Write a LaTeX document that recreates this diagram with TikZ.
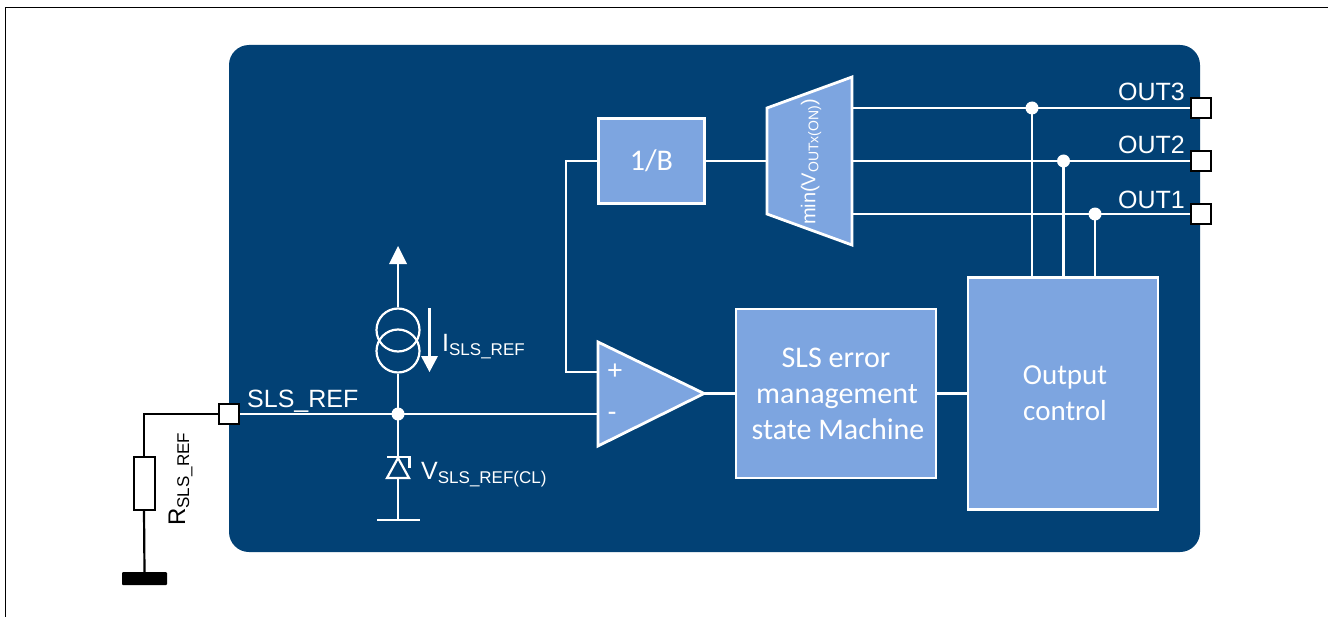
\documentclass[tikz,border=0pt]{standalone}
\usepackage{fontspec}
\setmainfont{Liberation Sans}
\newfontfamily\boxfont{Carlito}
\usetikzlibrary{arrows.meta}
\definecolor{navy}{HTML}{024175}
\definecolor{lightblock}{HTML}{7DA5E0}
\tikzset{
  wire/.style={draw=white,line width=2.2bp},
  blackwire/.style={draw=black,line width=2.2bp},
  block/.style={draw=white,line width=2.8bp,fill=lightblock,text=white,inner sep=0pt,align=center},
  pin/.style={draw=black,line width=2.4bp,fill=white,minimum size=20bp,inner sep=0pt},
  dot/.style={circle,fill=white,minimum size=13bp,inner sep=0pt},
  lbl/.style={text=white,inner sep=0pt,font=\fontsize{25bp}{28bp}\selectfont}
}
\newcommand{\subt}[1]{\raisebox{-4bp}{\fontsize{17bp}{20bp}\selectfont #1}}
\begin{document}
\begin{tikzpicture}[x=1bp,y=-1bp]
\useasboundingbox (0,0) rectangle (1328,617);
\fill[white] (0,0) rectangle (1328,617);
\draw[black,line width=1bp] (5.5,617) -- (5.5,7.5) -- (1328,7.5);
\fill[navy,rounded corners=20bp] (229,45) rectangle (1200,552);

% blocks
\node[block,minimum width=106bp,minimum height=85bp,font=\boxfont\fontsize{30bp}{36bp}\selectfont] (inv) at (651.5,161) {1/B};
\node[block,minimum width=200bp,minimum height=169bp,font=\boxfont\fontsize{30bp}{36bp}\selectfont] (sm) at (836,393.5) {\raisebox{-1bp}{SLS error}\\\raisebox{-1bp}{\hspace{2bp}management}\\\raisebox{-1bp}{\hspace{4bp}state Machine}};
\node[block,minimum width=190bp,minimum height=232bp,font=\boxfont\fontsize{29bp}{36bp}\selectfont] (oc) at (1063,393.5) {\raisebox{-1.5bp}{\hspace{4bp}Output}\\\raisebox{-1.5bp}{\hspace{4bp}control}};
\path[block,line join=miter,miter limit=2] (767,108) -- (852,77) -- (852,245) -- (767,214) -- cycle;
\coordinate (muxL) at (767,161);
\coordinate (muxR3) at (852,108);
\coordinate (muxR2) at (852,161);
\coordinate (muxR1) at (852,214);
\node[text=white,inner sep=0pt,rotate=90,font=\fontsize{20bp}{22bp}\selectfont] at (811,162) {min(V\raisebox{-3bp}{\fontsize{14bp}{16bp}\selectfont OUTx(ON)})};
\path[block,line join=miter] (598,342) -- (704,393.5) -- (598,446) -- cycle;
\coordinate (opP) at (598,372);
\coordinate (opM) at (598,414);
\coordinate (opO) at (704,393.5);
\node[text=white,inner sep=0pt,font=\fontsize{27bp}{28bp}\selectfont] at (615,372) {+};
\node[text=white,inner sep=0pt,font=\fontsize{27bp}{28bp}\selectfont] at (612,416) {-};

% pins
\node[pin] (p3) at (1201,108) {};
\node[pin] (p2) at (1201,161) {};
\node[pin] (p1) at (1201,214) {};
\node[pin] (pr) at (229,414) {};

% dots
\node[dot] (d3) at (1032,108) {};
\node[dot] (d2) at (1063.5,161) {};
\node[dot] (d1) at (1095,214) {};
\node[dot] (dj) at (398,414) {};

% wires
\draw[wire] (muxR3) -- (p3.west);
\draw[wire] (muxR2) -- (p2.west);
\draw[wire] (muxR1) -- (p1.west);
\draw[wire] (d3.center) -- (d3.center |- oc.north);
\draw[wire] (d2.center) -- (d2.center |- oc.north);
\draw[wire] (d1.center) -- (d1.center |- oc.north);
\draw[wire] (inv.east) -- (muxL);
\draw[wire] (inv.west) -| (566,372) -- (opP);
\draw[wire] (pr.east) -- (opM);
\draw[wire] (opO) -- (sm.west);
\draw[wire] (sm.east) -- (oc.west);

% current source
\node[circle,draw=white,line width=2.2bp,minimum size=43bp,inner sep=0pt] (cs1) at (398,330) {};
\node[circle,draw=white,line width=2.2bp,minimum size=43bp,inner sep=0pt] (cs2) at (398,351) {};
\draw[wire] (cs1.north) -- (398,262);
\fill[white] (398,246) -- (407,264) -- (389,264) -- cycle;
\draw[wire] (cs2.south) -- (dj.center);
\coordinate (ia) at (429.5,308);
\coordinate (ib) at (429.5,358);
\draw[wire] (ia) -- (ib);
\fill[white] (429.5,372) -- (421,356) -- (438,356) -- cycle;
\node[lbl,anchor=base west] at (442,351) {I\subt{SLS\_REF}};

% clamp
\coordinate (zt) at (398,457);
\coordinate (zb) at (398,478);
\draw[wire] (dj.center) -- (zt);
\draw[wire] (zb) -- (398,520);
\draw[wire] (377,520) -- (420,520);
\draw[wire,line join=miter] (387,457) -- (409.5,457) -- (409.5,468);
\draw[wire,line join=miter] (398,458) -- (409,478) -- (387,478) -- cycle;
\node[lbl,anchor=base west] at (421,479) {V\subt{SLS\_REF(CL)}};

\node[lbl,anchor=base west] at (247,407) {SLS\_REF};
\node[lbl,anchor=base east] at (1185,101) {OUT3};
\node[lbl,anchor=base east] at (1185,154) {OUT2};
\node[lbl,anchor=base east] at (1185,208) {OUT1};

% external resistor
\node[draw=black,line width=2bp,fill=white,minimum width=21bp,minimum height=53bp,inner sep=0pt] (rs) at (144,483) {};
\node[fill=black,minimum width=45bp,minimum height=13bp,inner sep=0pt,rounded corners=1bp] (gnd) at (144.5,578.5) {};
\draw[blackwire] (pr.west) -| (rs.north);
\draw[blackwire] (rs.south) -- (gnd.north);
\node[rotate=90,anchor=base west,inner sep=0pt,font=\fontsize{24bp}{28bp}\selectfont] at (185,526) {R\subt{SLS\_REF}};
\end{tikzpicture}
\end{document}
